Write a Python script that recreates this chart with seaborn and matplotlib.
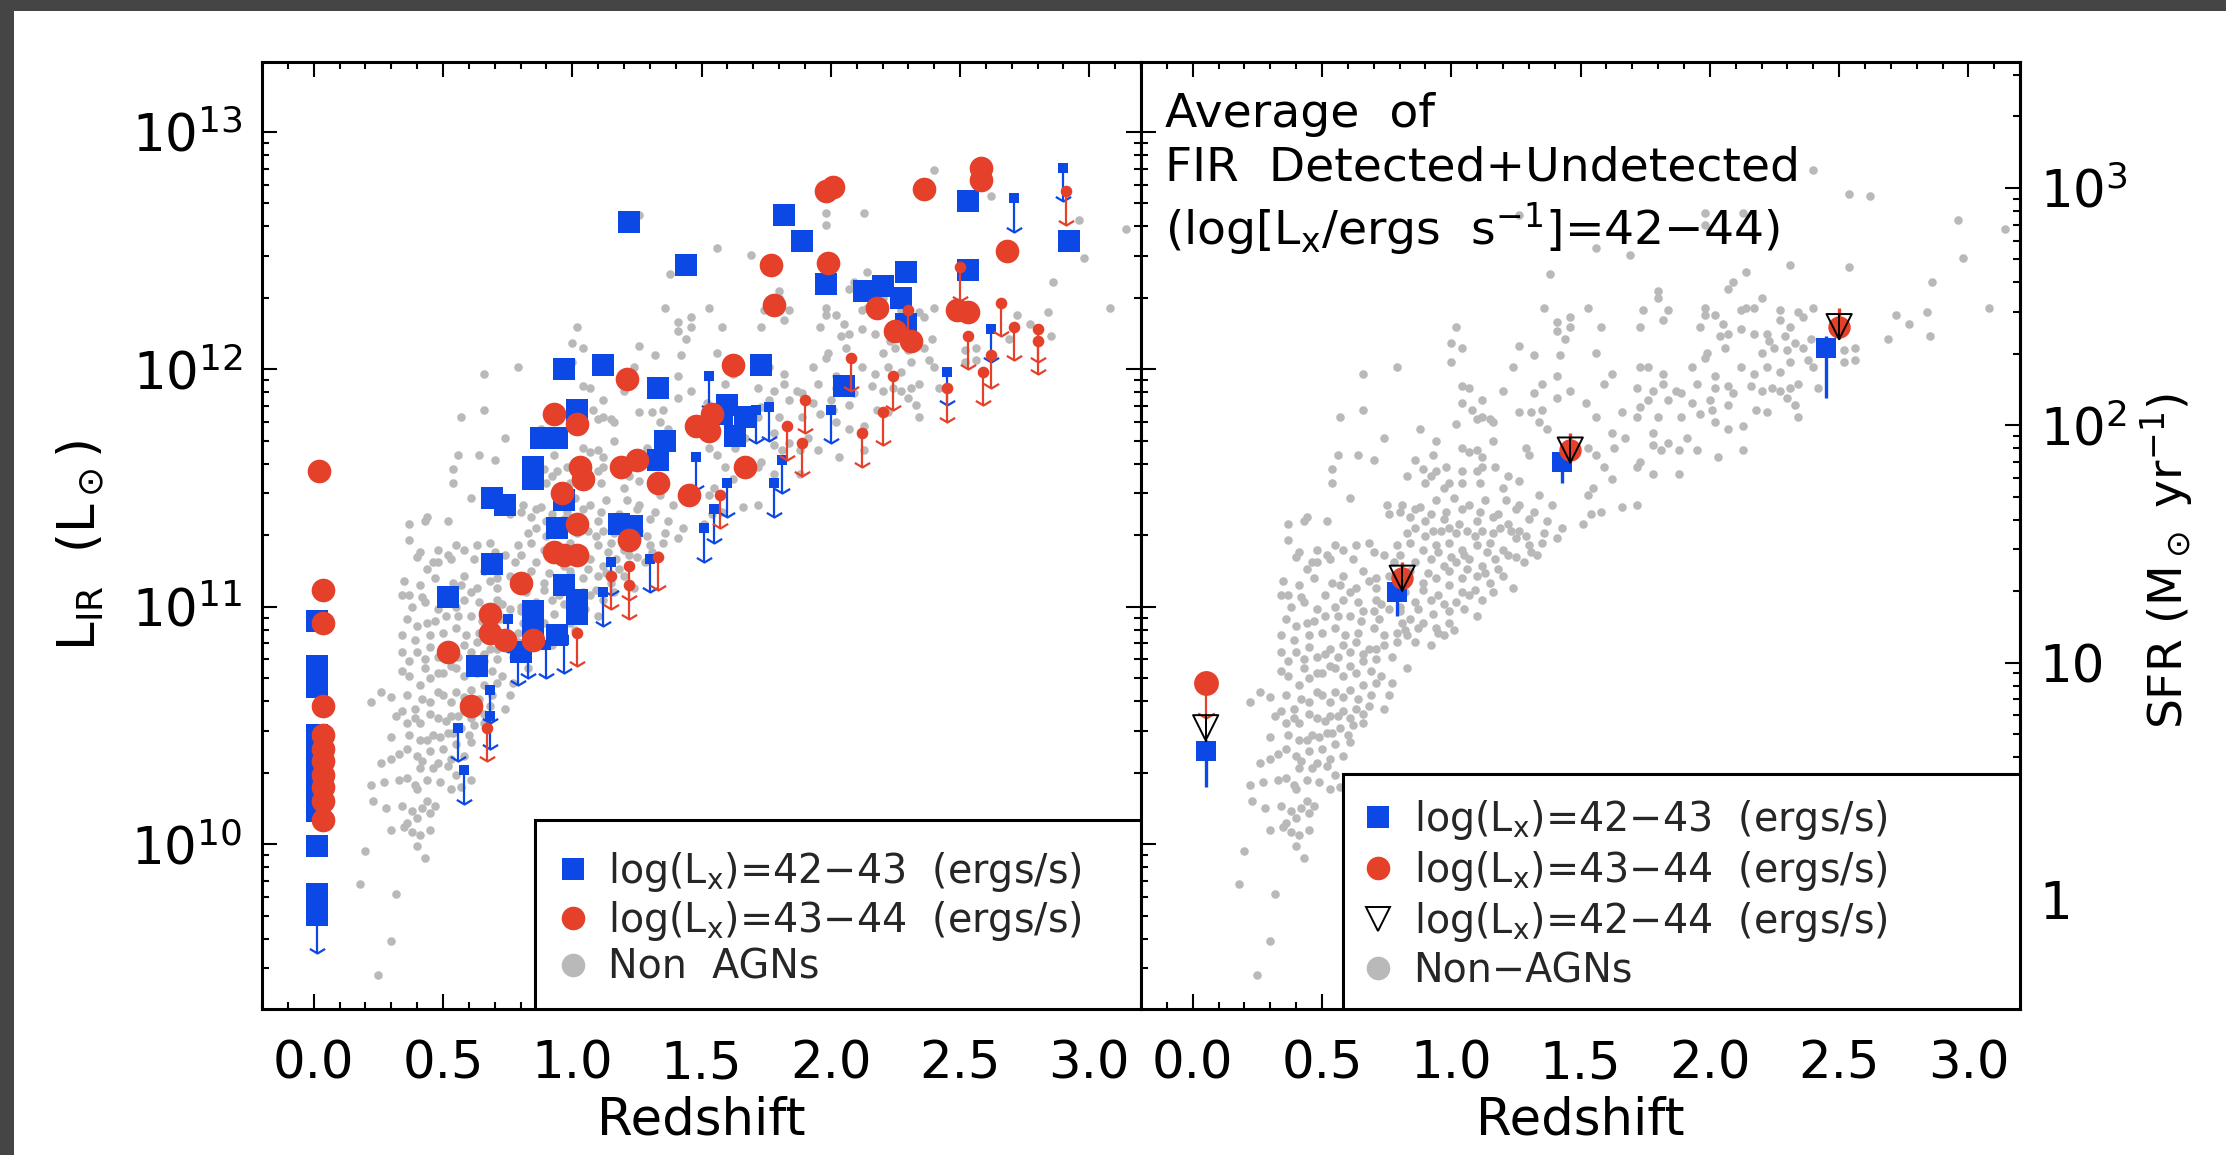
import numpy as np
import pandas as pd
import matplotlib
matplotlib.use("Agg")
import matplotlib.pyplot as plt
import seaborn as sns
from matplotlib.path import Path
from matplotlib.lines import Line2D
from matplotlib.patches import Rectangle
from matplotlib.ticker import (MultipleLocator, LogLocator, NullFormatter,
                               FormatStrFormatter, FixedLocator, FuncFormatter)

# ---------------------------------------------------------------- data
# Non-AGN galaxies (redshift, log L_IR) - resolved points
gray_z = [2.40,2.54,2.62,1.98,2.13,1.98,2.96,3.14,1.69,1.56,
          2.31,2.54,2.98,2.14,2.07,2.09,1.80,1.80,2.86,1.53,
          1.74,1.84,1.98,1.98,2.02,2.12,2.14,2.17,2.20,2.27,
          2.34,2.36,2.40,3.08,2.84,2.72,2.77,1.58,1.73,1.82,
          1.96,2.05,2.07,2.12,2.17,2.22,2.27,2.31,2.04,2.23,
          2.29,2.33,2.39,2.69,2.85,2.56,2.52,1.56,1.99,2.06,
          2.20,2.25,2.30,2.36,1.98,2.12,2.17,2.22,2.27,2.31,
          2.38,2.40,1.62,1.73,1.76,1.82,1.93,2.02,2.52,2.56,
          2.42,1.59,1.72,1.82,1.89,1.95,2.02,2.07,2.09,2.16,
          2.20,2.24,2.27,2.31,2.34,1.52,1.66,1.73,1.76,1.78,
          1.84,1.87,1.93,2.00,2.01,2.07,2.18,2.22,2.30,2.33,
          1.56,1.72,1.80,1.89,1.96,2.02,2.07,2.13,2.34,1.62,
          1.67,1.78,1.84,1.91,1.95,2.03,2.13,1.53,1.56,1.63,
          1.73,1.78,1.81,1.88,1.59,1.62,1.72,1.78,1.88,1.55,
          1.53,1.66,1.72,1.58,1.54,1.51,
          1.26,1.38,1.36,1.41,1.46,1.46,1.41,1.44,1.02,1.00,
          1.04,1.26,1.32,1.42,1.00,1.24,0.66,0.79,1.35,1.41,
          1.04,1.07,1.20,1.32,1.12,1.04,1.41,1.46,0.66,0.57,
          1.08,1.10,1.12,1.15,1.16,1.26,1.31,1.35,1.34,1.02,
          1.37,0.88,0.74,0.94,1.16,1.10,1.04,1.07,1.29,1.30,
          0.56,0.64,0.70,0.86,0.93,1.12,0.54,0.54,0.83,0.89,
          0.92,0.94,0.98,1.04,1.10,1.12,1.17,1.22,0.61,0.90,
          0.97,0.99,1.04,1.11,1.20,1.26,1.34,1.39,0.75,0.81,
          0.88,0.94,1.01,1.07,1.13,1.21,1.26,0.37,0.43,0.44,
          0.52,0.76,0.84,0.90,0.97,1.03,1.10,1.16,1.22,1.30,
          1.37,0.86,0.93,0.99,1.06,1.12,1.19,1.26,
          0.37,0.41,0.48,0.55,0.58,0.63,0.68,0.34,0.37,0.42,
          0.44,0.48,0.53,0.58,0.57,0.51,0.61,0.66,0.71,0.71,
          0.74,0.64,0.70,0.71,0.76,0.55,0.61,0.51,0.40,0.44,
          0.34,0.39,0.45,0.50,0.55,0.59,0.64,0.70,0.74,0.79,
          0.34,0.37,0.43,0.48,0.53,0.58,0.63,0.68,0.74,0.79,
          0.83,0.83,0.77,0.76,0.74,0.37,0.41,0.45,0.50,0.55,
          0.61,0.66,0.71,0.26,0.22,0.34,0.39,0.45,0.50,0.55,
          0.61,0.66,0.71,0.36,0.41,0.48,0.53,0.58,0.63,0.68,
          0.41,0.46,0.52,0.57,0.62,0.66,0.26,0.36,0.40,0.45,
          0.50,0.55,0.61,0.36,0.41,0.46,0.52,0.55,0.61,0.53,
          0.22,0.23,0.40,0.44,0.45,0.40,0.36,0.41,0.40,0.43,
          0.20,0.18,0.32,0.30,0.25,
          0.79,0.84,0.89,0.94,0.99,1.04,1.10,1.15,1.20,1.25,
          1.30,1.35,1.41,0.86,0.92,0.97,1.02,1.07,1.12,1.17,
          1.22,1.28,1.33,0.89,0.94,0.99,1.04,1.10,1.15,1.20,
          1.24,0.86,0.92,0.97,1.02,1.07,1.12,1.10,0.84,0.89,
          0.94,0.99,0.86,0.92,0.97]
gray_logL = [12.84,12.74,12.73,12.66,12.66,12.61,12.63,12.59,12.48,12.51,
             12.44,12.43,12.47,12.41,12.34,12.37,12.33,12.30,12.37,12.26,
             12.25,12.25,12.26,12.23,12.23,12.25,12.26,12.26,12.30,12.25,
             12.24,12.22,12.26,12.26,12.24,12.23,12.19,12.18,12.18,12.21,
             12.18,12.19,12.15,12.17,12.15,12.15,12.21,12.18,12.14,12.12,
             12.14,12.11,12.13,12.13,12.14,12.09,12.08,12.07,12.07,12.09,
             12.07,12.09,12.08,12.09,12.05,12.01,11.98,12.01,11.99,12.03,
             12.04,12.01,11.98,12.01,12.01,11.98,12.01,11.97,12.03,12.04,
             11.92,11.94,11.92,11.94,11.90,11.94,11.92,11.93,11.90,11.93,
             11.91,11.92,11.91,11.92,11.94,11.86,11.82,11.84,11.87,11.91,
             11.87,11.91,11.86,11.87,11.83,11.85,11.83,11.82,11.88,11.85,
             11.80,11.80,11.80,11.80,11.81,11.78,11.75,11.76,11.80,11.73,
             11.71,11.73,11.69,11.71,11.66,11.63,11.66,11.67,11.64,11.67,
             11.61,11.68,11.66,11.66,11.59,11.54,11.59,11.56,11.56,11.50,
             11.47,11.42,11.43,11.40,11.39,11.35,
             12.65,12.40,12.26,12.20,12.22,12.18,12.16,12.13,12.18,12.11,
             12.09,12.10,12.06,12.06,12.03,12.01,11.98,12.01,11.94,11.97,
             11.93,11.92,11.91,11.90,11.87,11.86,11.88,11.91,11.83,11.80,
             11.83,11.79,11.80,11.79,11.78,11.82,11.82,11.83,11.78,11.77,
             11.75,11.75,11.71,11.70,11.70,11.66,11.67,11.65,11.67,11.64,
             11.64,11.64,11.62,11.62,11.64,11.63,11.58,11.52,11.55,11.58,
             11.55,11.57,11.59,11.57,11.57,11.59,11.59,11.55,11.46,11.52,
             11.50,11.52,11.52,11.52,11.50,11.53,11.47,11.43,11.43,11.43,
             11.42,11.45,11.46,11.43,11.45,11.45,11.43,11.35,11.36,11.38,
             11.36,11.39,11.38,11.36,11.37,11.35,11.36,11.38,11.35,11.37,
             11.36,11.33,11.32,11.33,11.32,11.32,11.33,11.32,
             11.28,11.23,11.24,11.26,11.24,11.26,11.27,11.05,11.05,11.04,
             11.16,11.19,11.20,11.13,11.09,11.05,11.06,11.15,11.12,11.08,
             11.22,11.02,10.98,11.03,10.99,11.00,10.96,10.96,10.92,10.93,
             10.88,10.86,10.88,10.89,10.91,10.88,10.89,10.91,10.88,10.89,
             10.81,10.77,10.78,10.79,10.82,10.84,10.85,10.82,10.84,10.85,
             10.88,10.74,10.68,10.63,10.57,10.71,10.67,10.70,10.72,10.74,
             10.75,10.77,10.78,10.64,10.60,10.56,10.57,10.60,10.63,10.64,
             10.65,10.67,10.68,10.51,10.51,10.53,10.54,10.56,10.57,10.58,
             10.44,10.46,10.47,10.49,10.50,10.51,10.34,10.40,10.37,10.39,
             10.40,10.42,10.43,10.28,10.32,10.32,10.33,10.29,10.27,10.23,
             10.25,10.18,10.23,10.18,10.13,10.11,10.09,10.04,9.99,9.94,
             9.97,9.83,9.79,9.59,9.45,
             11.26,11.27,11.24,11.26,11.27,11.24,11.26,11.27,11.24,11.29,
             11.26,11.27,11.29,11.19,11.20,11.17,11.19,11.20,11.17,11.20,
             11.22,11.19,11.22,11.10,11.12,11.09,11.12,11.13,11.10,11.13,
             11.08,11.02,11.03,11.01,11.02,11.05,11.03,10.96,10.95,10.93,
             10.91,10.93,10.85,10.84,10.88]

# Non-AGN galaxies in the crowded part of the cloud (estimated positions)
gray_dense_z = [0.40,0.46,0.52,0.62,0.70,0.78,
                0.35,0.41,0.47,0.54,0.63,0.68,0.76,0.82,
                0.38,0.43,0.48,0.58,0.66,0.73,0.80,
                0.36,0.47,0.56,0.65,0.72,0.81,
                0.40,0.45,0.51,0.56,0.61,0.66,0.71,0.77,
                0.34,0.43,0.48,0.53,0.58,0.63,0.69,0.73,
                0.30,0.36,0.42,0.48,0.53,0.58,0.64,0.69,
                0.32,0.39,0.45,0.51,0.56,0.61,0.66,
                0.30,0.37,0.44,0.49,0.54,0.60,
                0.30,0.33,0.42,0.48,0.53,0.58,
                0.27,0.33,0.39,0.44,0.49,0.57,
                0.28,0.34,0.38,0.42,0.47,
                0.30,0.35,0.38,0.45,
                0.80,0.86,0.92,0.98,1.04,1.11,1.18,1.25,1.32,
                0.83,0.90,0.96,1.02,1.09,1.16,1.23,1.29,1.36,1.43,
                0.80,0.95,1.00,1.05,1.14,1.25,1.31,
                0.84,0.91,0.99,1.06,1.13,1.18,
                0.82,0.89,0.95,1.04,1.09,1.16,
                0.80,0.87,0.93,0.99,1.05,
                0.82,0.87,0.95,1.01]
gray_dense_logL = [11.21,11.19,11.22,11.20,11.23,11.19,
                   11.11,11.09,11.12,11.10,11.08,11.11,11.13,11.09,
                   11.00,11.02,10.99,11.03,10.98,11.01,11.00,
                   10.95,10.94,10.96,10.94,10.95,10.93,
                   10.81,10.83,10.80,10.79,10.81,10.80,10.82,10.79,
                   10.73,10.74,10.72,10.75,10.71,10.72,10.73,10.71,
                   10.62,10.63,10.61,10.64,10.60,10.62,10.61,10.63,
                   10.54,10.53,10.55,10.52,10.54,10.53,10.55,
                   10.45,10.46,10.44,10.45,10.47,10.46,
                   10.36,10.38,10.35,10.34,10.36,10.37,
                   10.26,10.27,10.25,10.27,10.26,10.24,
                   10.15,10.16,10.14,10.15,10.16,
                   10.06,10.07,10.05,10.06,
                   11.40,11.41,11.39,11.40,11.41,11.40,11.39,11.41,11.40,
                   11.31,11.30,11.32,11.31,11.30,11.31,11.32,11.30,11.31,11.33,
                   11.22,11.23,11.21,11.22,11.23,11.21,11.23,
                   11.15,11.14,11.15,11.16,11.14,11.16,
                   11.06,11.07,11.05,11.06,11.07,11.06,
                   10.98,10.99,10.97,10.98,10.99,
                   10.90,10.91,10.89,10.90]

# log(Lx)=42-43 AGN, FIR detected
blue_det_z = [1.22,1.44,0.97,1.12,1.33,1.02,0.88,0.94,1.36,1.33,0.85,0.85,0.69,0.74,0.97,0.94,1.18,1.23,
              1.82,1.89,1.98,2.13,2.20,2.29,2.27,2.29,2.53,2.53,2.92,1.73,2.05,1.60,1.67,1.63,1.58,
              0.69,0.52,0.63,0.85,0.85,0.97,1.02,1.02,0.94,0.80,
              0.013,0.013,0.013,0.013,0.013,0.013,0.013,0.013,0.013,0.013,0.013]
blue_det_logL = [12.62,12.44,12.00,12.02,11.92,11.83,11.71,11.71,11.70,11.62,11.59,11.54,11.46,11.43,11.45,11.33,11.35,11.34,
                 12.65,12.54,12.36,12.33,12.35,12.41,12.30,12.19,12.71,12.42,12.54,12.02,11.93,11.85,11.80,11.72,11.81,
                 11.18,11.04,10.75,10.98,10.91,11.09,11.03,10.97,10.88,10.81,
                 10.94,10.75,10.66,10.46,10.38,10.30,10.22,10.14,9.99,9.79,9.70]
# log(Lx)=42-43 AGN, FIR upper limits
blue_lim_z = [2.90,2.71,1.53,1.76,1.71,2.00,2.45,2.62,1.78,1.81,1.60,1.55,1.51,1.48,
              0.75,0.68,0.68,0.56,0.58,1.12,1.15,1.30,0.83,0.90,0.97,0.79]
blue_lim_logL = [12.85,12.72,11.97,11.84,11.83,11.83,11.99,12.17,11.52,11.62,11.52,11.41,11.33,11.63,
                 10.95,10.65,10.54,10.49,10.31,11.06,11.19,11.20,10.84,10.84,10.86,10.81]
# local blue source drawn with a big symbol but an upper limit
blue_local_lim_z = [0.013]
blue_local_lim_logL = [9.70]

# log(Lx)=43-44 AGN, FIR detected
red_det_z = [1.21,0.93,1.02,1.03,1.04,0.96,1.19,1.25,1.33,1.45,1.48,1.02,
             1.98,2.01,2.36,2.58,2.58,2.68,1.77,1.99,1.78,2.18,2.25,2.31,2.49,2.53,1.62,1.54,1.53,1.67,
             0.80,0.97,1.02,0.93,0.68,0.68,0.74,0.85,0.52,0.61,1.22,
             0.02,0.035,0.035,0.035,0.035,0.035,0.035,0.035,0.035,0.035,0.035]
red_det_logL = [11.96,11.81,11.77,11.59,11.54,11.48,11.59,11.62,11.52,11.47,11.76,11.35,
                12.75,12.77,12.76,12.85,12.80,12.50,12.44,12.45,12.27,12.26,12.16,12.12,12.25,12.24,12.02,11.81,11.74,11.59,
                11.10,11.22,11.22,11.23,10.97,10.89,10.86,10.86,10.81,10.58,11.28,
                11.57,11.07,10.93,10.58,10.46,10.40,10.35,10.29,10.24,10.18,10.10]
# log(Lx)=43-44 AGN, FIR upper limits
red_lim_z = [2.91,2.50,2.66,2.71,2.80,2.80,2.53,2.62,2.59,2.45,2.24,2.20,2.08,1.90,1.83,1.89,2.12,1.57,2.30,
             0.67,1.02,1.15,1.22,1.22,1.33]
red_lim_logL = [12.75,12.43,12.28,12.18,12.17,12.12,12.14,12.06,11.99,11.92,11.97,11.82,12.05,11.87,11.76,11.69,11.73,11.47,12.25,
                10.49,10.89,11.13,11.17,11.09,11.21]

# averages (right panel)
avg_blue_z = [0.05, 0.79, 1.43, 2.45]
avg_blue_logL = [10.39, 11.06, 11.61, 12.09]
avg_blue_errlo = [0.15, 0.10, 0.09, 0.21]
avg_blue_errhi = [0.05, 0.05, 0.05, 0.05]
avg_red_z = [0.81, 1.46, 2.50]
avg_red_logL = [11.12, 11.66, 12.18]
avg_red_errhi = [0.07, 0.07, 0.08]
avg_red_errlo = [0.05, 0.05, 0.05]
avg_red_lim_z = [0.05]
avg_red_lim_logL = [10.68]
avg_all_z = [0.05, 0.81, 1.46, 2.50]
avg_all_logL = [10.49, 11.12, 11.66, 12.18]
avg_all_err = [0.06, 0.05, 0.05, 0.05]

SFR_K = 1.72e-10   # SFR = K * L_IR

# ---------------------------------------------------------------- style
BLUE = "#0b48e6"
RED = "#e4402a"
GRAY = "#b9b9b9"
sns.set_style("ticks")
plt.rcParams["font.family"] = ["DejaVu Sans"]
plt.rcParams["mathtext.fontset"] = "dejavusans"

VHEAD = Path([(-1.0, 0.6), (0.0, 0.0), (1.0, 0.6)],
             [Path.MOVETO, Path.LINETO, Path.LINETO])

fig = plt.figure(figsize=(22.26, 11.55), dpi=100)
fig.patch.set_facecolor("#454545")
fig.add_artist(Rectangle((14 / 2226, 0), 1, 1 - 11 / 1155, transform=fig.transFigure,
                         facecolor="white", edgecolor="none", zorder=-10))

ax1 = fig.add_axes([0.1177, 0.1264, 0.3949, 0.8199])
ax2 = fig.add_axes([0.5126, 0.1264, 0.3949, 0.8199])


def L(v):
    return 10 ** np.asarray(v, dtype=float)


def scatter(ax, z, logl, color, marker, size, zorder, **kw):
    df = pd.DataFrame({"z": z, "L": L(logl)})
    sns.scatterplot(data=df, x="z", y="L", color=color, marker=marker, s=size,
                    linewidth=kw.pop("linewidth", 0), ax=ax, zorder=zorder,
                    legend=False, **kw)


def arrows(ax, z, logl, color, length=0.14, zorder=3, head=11):
    z = np.asarray(z, dtype=float)
    top = L(logl)
    bot = L(np.asarray(logl) - length)
    ax.vlines(z, bot, top, colors=color, lw=1.6, zorder=zorder)
    ax.plot(z, bot, ls="none", marker=VHEAD, ms=head, mec=color, mfc="none",
            mew=1.6, zorder=zorder)


all_gray_z = list(gray_z) + list(gray_dense_z)
all_gray_logL = list(gray_logL) + list(gray_dense_logL)

# ---- left panel
scatter(ax1, all_gray_z, all_gray_logL, GRAY, "o", 38, 2)
arrows(ax1, blue_lim_z, blue_lim_logL, BLUE)
arrows(ax1, blue_local_lim_z, blue_local_lim_logL, BLUE, length=0.16)
scatter(ax1, blue_lim_z, blue_lim_logL, BLUE, "s", 60, 4)
scatter(ax1, blue_det_z, blue_det_logL, BLUE, "s", 270, 4)
scatter(ax1, blue_local_lim_z, blue_local_lim_logL, BLUE, "s", 270, 4)
arrows(ax1, red_lim_z, red_lim_logL, RED, zorder=5)
scatter(ax1, red_lim_z, red_lim_logL, RED, "o", 70, 5)
scatter(ax1, red_det_z, red_det_logL, RED, "o", 290, 5)

# ---- right panel
scatter(ax2, all_gray_z, all_gray_logL, GRAY, "o", 38, 2)
bl = np.asarray(avg_blue_logL)
ax2.errorbar(avg_blue_z, L(bl),
             yerr=[L(bl) - L(bl - np.asarray(avg_blue_errlo)), L(bl + np.asarray(avg_blue_errhi)) - L(bl)],
             fmt="none", ecolor=BLUE, elinewidth=2.4, capsize=0, zorder=4)
scatter(ax2, avg_blue_z, avg_blue_logL, BLUE, "s", 200, 4)
rl = np.asarray(avg_red_logL)
ax2.errorbar(avg_red_z, L(rl),
             yerr=[L(rl) - L(rl - np.asarray(avg_red_errlo)), L(rl + np.asarray(avg_red_errhi)) - L(rl)],
             fmt="none", ecolor=RED, elinewidth=2.4, capsize=0, zorder=5)
scatter(ax2, avg_red_z, avg_red_logL, RED, "o", 260, 5)
arrows(ax2, avg_red_lim_z, avg_red_lim_logL, RED, length=0.15, zorder=5, head=12)
scatter(ax2, avg_red_lim_z, avg_red_lim_logL, RED, "o", 320, 5)
al = np.asarray(avg_all_logL)
ae = np.asarray(avg_all_err)
ax2.errorbar(avg_all_z, L(al), yerr=[L(al) - L(al - ae), L(al + ae) - L(al)],
             fmt="none", ecolor="black", elinewidth=1.4, capsize=0, zorder=6)
scatter(ax2, avg_all_z, avg_all_logL, "none", "v", 330, 6,
        edgecolor="black", linewidth=1.4, facecolor="none")

# ---------------------------------------------------------------- axes
for ax in (ax1, ax2):
    ax.set_yscale("log")
    ax.set_xlim(-0.2, 3.2)
    ax.set_ylim(10 ** 9.305, 10 ** 13.295)
    ax.xaxis.set_major_locator(MultipleLocator(0.5))
    ax.xaxis.set_minor_locator(MultipleLocator(0.1))
    ax.xaxis.set_major_formatter(FormatStrFormatter("%.1f"))
    ax.yaxis.set_major_locator(LogLocator(base=10, numticks=20))
    ax.yaxis.set_minor_locator(LogLocator(base=10, subs=np.arange(2, 10), numticks=20))
    ax.yaxis.set_minor_formatter(NullFormatter())
    ax.tick_params(which="both", direction="in", top=True, bottom=True,
                   width=1.5, color="black", labelcolor="black")
    ax.tick_params(which="major", length=11, labelsize=37)
    ax.tick_params(which="minor", length=5)
    ax.tick_params(axis="x", which="major", pad=22)
    ax.tick_params(axis="y", which="major", pad=14)
    for sp in ax.spines.values():
        sp.set_linewidth(2.2)
        sp.set_color("black")
    ax.set_xlabel("Redshift", fontsize=37, labelpad=4, color="black")
    ax.set_facecolor("white")

ax1.tick_params(axis="y", which="both", left=True, right=True)
ax1.set_ylabel(r"L$_{\rm IR}$  (L$_\odot$)", fontsize=37, color="black")
ax1.yaxis.set_label_coords(-0.178, 0.49)
ax2.tick_params(axis="y", which="both", left=True, right=False, labelleft=False)
ax2.set_ylabel("")

sec = ax2.secondary_yaxis("right", functions=(lambda v: v * SFR_K, lambda v: v / SFR_K))
sec.yaxis.set_major_locator(FixedLocator([1, 10, 100, 1000]))
sfr_lab = {1: "1", 10: "10", 100: r"$10^2$", 1000: r"$10^3$"}
sec.yaxis.set_major_formatter(FuncFormatter(lambda v, p: sfr_lab.get(int(round(v)), "")))
sec.yaxis.set_minor_locator(LogLocator(base=10, subs=np.arange(2, 10), numticks=20))
sec.yaxis.set_minor_formatter(NullFormatter())
sec.tick_params(which="both", direction="in", width=1.5, color="black", labelcolor="black")
sec.tick_params(which="major", length=11, labelsize=37, pad=14)
sec.tick_params(which="minor", length=5)
sec.spines["right"].set_linewidth(2.2)
sec.set_ylabel(r"SFR (M$_\odot$ yr$^{-1}$)", fontsize=34, color="black")
sec.yaxis.set_label_coords(1.135, 0.473, transform=ax2.transAxes)

ax2.text(0.027, 0.968,
         "Average  of\nFIR  Detected+Undetected\n(log[L$_{\\rm x}$/ergs  s$^{-1}$]=42\u221244)",
         transform=ax2.transAxes, ha="left", va="top", fontsize=34,
         linespacing=1.22, zorder=10, color="black")

# ---------------------------------------------------------------- legends
lab1 = "log(L$_{\\rm x}$)=42\u221243  (ergs/s)"
lab2 = "log(L$_{\\rm x}$)=43\u221244  (ergs/s)"
lab3 = "log(L$_{\\rm x}$)=42\u221244  (ergs/s)"

h_blue = Line2D([], [], ls="none", marker="s", ms=16, mfc=BLUE, mec=BLUE, mew=0)
h_red = Line2D([], [], ls="none", marker="o", ms=17, mfc=RED, mec=RED, mew=0)
h_gray = Line2D([], [], ls="none", marker="o", ms=17, mfc=GRAY, mec=GRAY, mew=0)
h_tri = Line2D([], [], ls="none", marker="v", ms=17, mfc="none", mec="black", mew=1.4)

ax1.add_patch(Rectangle((0.3106, 0), 0.6894, 0.1996, transform=ax1.transAxes,
                        facecolor="white", edgecolor="black", lw=2.2, zorder=7))
leg1 = ax1.legend([h_blue, h_red, h_gray], [lab1, lab2, "Non  AGNs"],
                  loc="upper left", bbox_to_anchor=(0.331, 0.168),
                  bbox_transform=ax1.transAxes, frameon=False, fontsize=28.5,
                  handlelength=1.0, handletextpad=0.4, labelspacing=0.12,
                  borderpad=0, borderaxespad=0)
leg1.set_zorder(8)

ax2.add_patch(Rectangle((0.2298, 0), 0.7702, 0.248, transform=ax2.transAxes,
                        facecolor="white", edgecolor="black", lw=2.2, zorder=7))
leg2 = ax2.legend([h_blue, h_red, h_tri, h_gray], [lab1, lab2, lab3, "Non\u2212AGNs"],
                  loc="upper left", bbox_to_anchor=(0.247, 0.223),
                  bbox_transform=ax2.transAxes, frameon=False, fontsize=28.5,
                  handlelength=1.0, handletextpad=0.4, labelspacing=0.18,
                  borderpad=0, borderaxespad=0)
leg2.set_zorder(8)

fig.savefig("out.png", dpi=100, facecolor=fig.get_facecolor())
